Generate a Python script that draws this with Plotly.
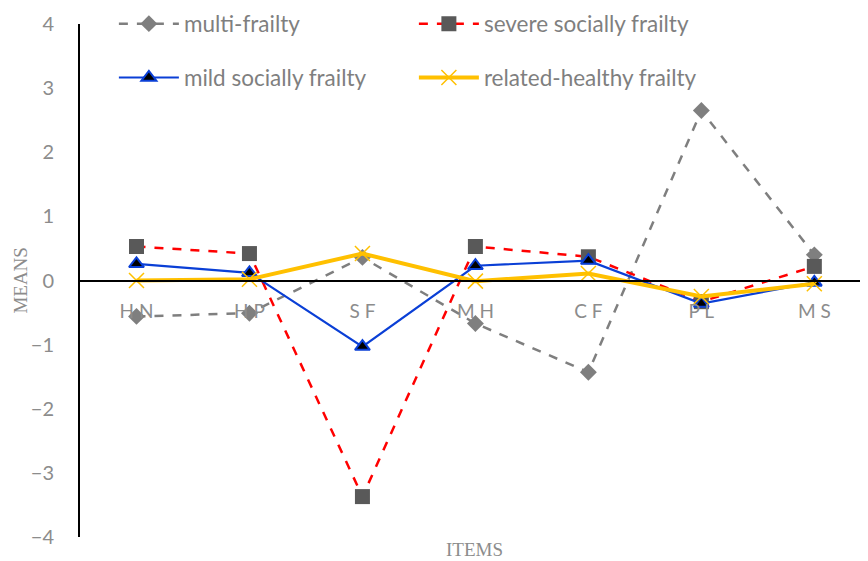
import plotly.graph_objects as go

categories = ["H N", "H P", "S F", "M H", "C F", "P L", "M S"]
multi_frailty = [-0.56, -0.51, 0.36, -0.67, -1.43, 2.65, 0.40]
severe_social = [0.53, 0.42, -3.37, 0.53, 0.37, -0.33, 0.22]
mild_social = [0.26, 0.12, -1.03, 0.23, 0.31, -0.36, -0.03]
related_healthy = [0.00, 0.02, 0.42, -0.01, 0.11, -0.25, -0.05]
y_ticks = [-4, -3, -2, -1, 0, 1, 2, 3, 4]
y_ticktext = ["\u22124", "\u22123", "\u22122", "\u22121", "0", "1", "2", "3", "4"]

fig = go.Figure()
fig.add_trace(go.Scatter(
    x=categories, y=multi_frailty, name="multi-frailty", mode="lines+markers",
    line=dict(color="#7f7f7f", width=2.5, dash="dash"),
    marker=dict(symbol="diamond", size=13, color="#7f7f7f"),
    legend="legend"))
fig.add_trace(go.Scatter(
    x=categories, y=severe_social, name="severe socially frailty", mode="lines+markers",
    line=dict(color="#ff0000", width=2.5, dash="dash"),
    marker=dict(symbol="square", size=15, color="#595959"),
    legend="legend"))
fig.add_trace(go.Scatter(
    x=categories, y=mild_social, name="mild socially frailty", mode="lines+markers",
    line=dict(color="#0a3fd6", width=2.2),
    marker=dict(symbol="triangle-up", size=13, color="#000000",
                line=dict(color="#0a3fd6", width=2)),
    legend="legend2"))
fig.add_trace(go.Scatter(
    x=categories, y=related_healthy, name="related-healthy frailty", mode="lines+markers",
    line=dict(color="#ffc000", width=4),
    marker=dict(symbol="x-thin", size=15, color="#ffc000",
                line=dict(color="#ffc000", width=1.5)),
    legend="legend2"))

legend_font = dict(family="Lato, 'Open Sans', sans-serif", size=22.5, color="#7f7f7f")
# page body has an 8px margin, so the figure is sized/offset to compensate
fig.update_layout(
    template="none",
    width=860, height=553,
    margin=dict(l=72, r=0, t=16, b=24, autoexpand=False),
    plot_bgcolor="white", paper_bgcolor="white",
    showlegend=True,
    legend=dict(orientation="h", x=0.043, y=1.0, xanchor="left", yanchor="middle",
                entrywidth=225, entrywidthmode="pixels", font=legend_font,
                itemwidth=60, bgcolor="rgba(0,0,0,0)"),
    legend2=dict(orientation="h", x=0.043, y=0.895, xanchor="left", yanchor="middle",
                 entrywidth=225, entrywidthmode="pixels", font=legend_font,
                 itemwidth=60, bgcolor="rgba(0,0,0,0)"),
    xaxis=dict(
        type="category", range=[-0.5, 6.475],
        anchor="free", position=0.5, automargin=False,
        showline=True, linecolor="#000000", linewidth=2,
        showgrid=False, zeroline=False, ticks="",
        ticklabelstandoff=14,
        tickfont=dict(family="Lato, 'Open Sans', sans-serif", size=19, color="#8c8c8c"),
    ),
    yaxis=dict(
        range=[-4, 4], tickvals=y_ticks, ticktext=y_ticktext, automargin=False,
        showline=True, linecolor="#000000", linewidth=2,
        showgrid=False, zeroline=False, ticks="",
        ticklabelstandoff=20,
        tickfont=dict(family="Lato, 'Open Sans', sans-serif", size=20, color="#8c8c8c"),
    ),
)

fig.add_annotation(text="MEANS", xref="paper", yref="paper", x=-0.076, y=0.5,
                   textangle=-90, showarrow=False, xanchor="center", yanchor="middle",
                   font=dict(family="'Liberation Serif', 'DejaVu Serif', serif", size=19, color="#8c8c8c"))
fig.add_annotation(text="ITEMS", xref="paper", yref="paper", x=0.5, y=-0.025,
                   showarrow=False, xanchor="center", yanchor="middle",
                   font=dict(family="'Liberation Serif', 'DejaVu Serif', serif", size=19, color="#8c8c8c"))

fig.write_html("out.html")
